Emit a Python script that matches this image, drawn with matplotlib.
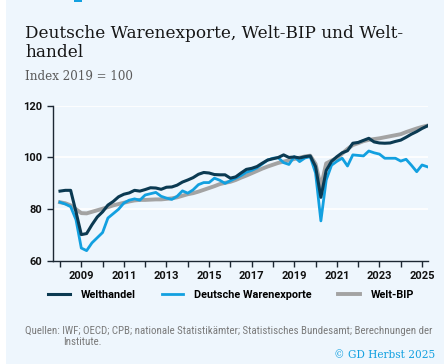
import matplotlib.pyplot as plt
import matplotlib.patches as patches
import numpy as np

# quarterly values, 2008Q1 .. 2025Q2 (Index 2019 = 100)
welthandel = [87.0, 87.3, 87.3, 79.0,
              70.2, 70.6, 74.0, 77.0,
              79.0, 81.6, 83.0, 84.8,
              85.8, 86.3, 87.3, 87.0,
              87.6, 88.3, 88.2, 87.7,
              88.5, 88.6, 89.3, 90.5,
              91.3, 92.2, 93.5, 94.2,
              94.0, 93.4, 93.3, 93.3,
              92.0, 92.5, 94.0, 95.4,
              95.8, 96.5, 97.8, 99.0,
              99.5, 100.0, 101.0, 100.0,
              100.2, 99.8, 100.3, 100.6,
              96.5, 84.6, 95.0, 98.5,
              100.3, 101.8, 102.6, 105.5,
              105.8, 106.6, 107.4, 106.0,
              105.6, 105.5, 105.6, 106.2,
              106.7, 107.8, 109.0, 110.0,
              111.2, 112.2]
exporte = [82.7, 82.0, 81.0, 76.0,
           65.0, 64.0, 67.0, 69.0,
           71.0, 76.6, 78.3, 80.0,
           82.4, 83.5, 84.0, 83.5,
           85.5, 86.0, 86.5, 85.0,
           84.3, 83.8, 85.0, 87.1,
           86.2, 87.5, 89.5, 90.3,
           90.3, 92.0, 91.2, 90.0,
           91.0, 92.0, 93.0, 94.3,
           95.0, 96.0, 97.5, 99.0,
           99.7, 99.9, 98.0, 97.3,
           100.3, 98.4, 99.8, 100.3,
           94.0, 75.5, 91.3, 97.0,
           98.5, 99.7, 96.7, 101.0,
           100.8, 100.6, 102.5, 101.8,
           101.3, 99.7, 99.7, 99.7,
           98.6, 99.3, 97.0, 94.5,
           97.1, 96.4]
welt_bip = [82.7, 82.3, 81.5, 80.0,
            78.5, 78.4, 79.0, 79.6,
            80.2, 80.8, 81.5, 82.0,
            82.5, 83.0, 83.4, 83.6,
            83.6, 83.7, 83.8, 83.8,
            84.0, 84.2, 84.6, 85.2,
            85.8, 86.2, 86.8, 87.5,
            88.2, 88.9, 89.7, 90.2,
            90.6, 91.3, 92.2, 93.0,
            93.9, 94.8, 95.7, 96.5,
            97.2, 97.9, 98.4, 98.9,
            99.4, 99.9, 100.4, 100.7,
            97.5, 88.7, 97.7, 98.8,
            99.7, 101.5, 103.3, 104.8,
            105.5, 106.3, 106.8, 107.1,
            107.4, 107.8, 108.2, 108.6,
            109.0, 109.8, 110.5, 111.2,
            111.8, 112.3]
years = 2008 + np.arange(len(welthandel)) / 4
tick_years = list(range(2008, 2026))
label_years = [2009, 2011, 2013, 2015, 2017, 2019, 2021, 2023, 2025]
y_ticks = [60, 80, 100, 120]

bg = '#eef6fd'
c_dark = '#0b3a52'
c_blue = '#12a0e0'
c_gray = '#a3a3a3'
c_axis = '#1c2733'
sans = ['Roboto Condensed', 'Liberation Sans Narrow', 'Roboto', 'DejaVu Sans']

fig = plt.figure(figsize=(4.44, 3.64), dpi=100)
fig.patch.set_facecolor(bg)
# white strip on the left edge and a bit of header
fig.patches.append(patches.Rectangle((0, 0), 6 / 444, 1, transform=fig.transFigure,
                                     facecolor='white', edgecolor='none', zorder=0))
fig.patches.append(patches.Rectangle((74 / 444, 1 - 2 / 364), 8 / 444, 2 / 364,
                                     transform=fig.transFigure,
                                     facecolor=c_blue, edgecolor='none', zorder=0))

ax = fig.add_axes([53 / 444, 1 - 261 / 364, 375 / 444, 155.3 / 364])
ax.set_facecolor(bg)

for yv in [80, 100, 120]:
    ax.axhline(yv, color='white', linewidth=1.2, zorder=1)

ax.plot(years, welt_bip, color=c_gray, linewidth=2.8, zorder=2, label='Welt-BIP',
        solid_joinstyle='round')
ax.plot(years, exporte, color=c_blue, linewidth=2.0, zorder=3,
        label='Deutsche Warenexporte', solid_joinstyle='round')
ax.plot(years, welthandel, color=c_dark, linewidth=2.2, zorder=4, label='Welthandel',
        solid_joinstyle='round')

ax.set_xlim(2008 - 7 / 21.3, 2025.28)
ax.set_ylim(60, 120)

for s in ['top', 'right']:
    ax.spines[s].set_visible(False)
for s in ['left', 'bottom']:
    ax.spines[s].set_color(c_axis)
    ax.spines[s].set_linewidth(1.0)

ax.set_xticks(tick_years)
ax.set_xticklabels([str(y) if y in label_years else '' for y in tick_years])
ax.set_yticks(y_ticks)
ax.tick_params(axis='both', colors=c_axis, length=4, width=1, labelsize=8)
for lab in ax.get_xticklabels() + ax.get_yticklabels():
    lab.set_fontweight('bold')
    lab.set_family('Roboto')
    lab.set_color('#111111')

handles, labels = ax.get_legend_handles_labels()
order = [2, 1, 0]
fig.legend([handles[i] for i in order], [labels[i] for i in order],
           loc='center', bbox_to_anchor=(231 / 444, 1 - 295 / 364), ncol=3,
           frameon=False, handlelength=2.0, handletextpad=1.0, columnspacing=2.4,
           prop={'weight': 'bold', 'size': 7.8, 'family': 'Roboto'})

fig.text(25 / 444, 1 - 43 / 364, 'Deutsche Warenexporte, Welt-BIP und Welt-\nhandel',
         family='DejaVu Serif', fontsize=12.2, color='#161616', va='center',
         linespacing=1.2)
fig.text(25 / 444, 1 - 76 / 364, 'Index 2019 = 100', family='DejaVu Serif',
         fontsize=8.6, color='#5a5a5a', va='center')

fig.text(25 / 444, 1 - 331 / 364,
         'Quellen: IWF; OECD; CPB; nationale Statistikämter; Statistisches Bundesamt; Berechnungen der',
         family=sans, fontsize=7.8, color='#7a7a7a', va='center')
fig.text(63 / 444, 1 - 342 / 364, 'Institute.',
         family=sans, fontsize=7.8, color='#7a7a7a', va='center')
fig.text(435 / 444, 1 - 355 / 364, '© GD Herbst 2025', family='DejaVu Serif',
         fontsize=7.6, color=c_blue, ha='right', va='center')

fig.savefig('out.png', dpi=100, facecolor=bg)
